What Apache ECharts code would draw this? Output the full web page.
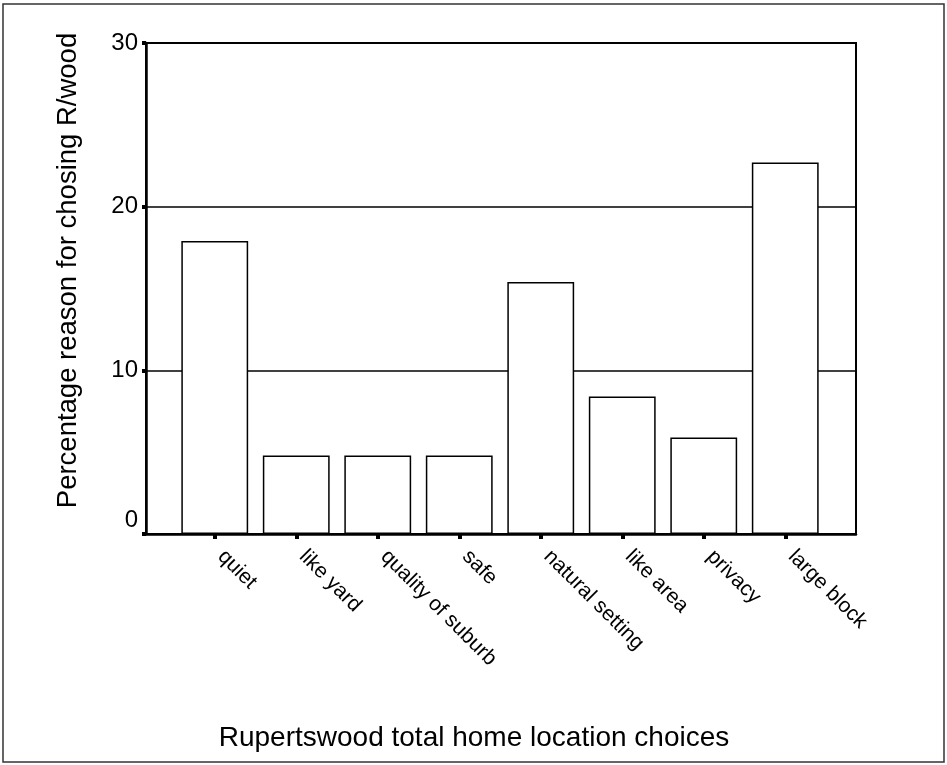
<!DOCTYPE html>
<html>
<head>
<meta charset="utf-8">
<title>Rupertswood total home location choices</title>
<script src="https://cdn.jsdelivr.net/npm/echarts@6/dist/echarts.min.js"></script>
<style>
  html, body { margin: 0; padding: 0; background: #fff; }
  #chart { width: 947px; height: 765px; }
</style>
</head>
<body>
<div id="chart"></div>
<script>
// Reasons given for choosing Rupertswood as a home location (percent of responses)
const categories = ['quiet', 'like yard', 'quality of suburb', 'safe', 'natural setting', 'like area', 'privacy', 'large block'];
const percentages = [17.9, 4.8, 4.8, 4.8, 15.4, 8.4, 5.9, 22.7];

const xTitle = 'Rupertswood total home location choices';
const yTitle = 'Percentage reason for chosing R/wood';

const FONT = '"Liberation Sans", Arial, sans-serif';

const chart = echarts.init(document.getElementById('chart'), null, { renderer: 'canvas' });

chart.setOption({
  backgroundColor: '#fff',
  animation: false,
  graphic: [{
    type: 'rect',
    shape: { x: 3, y: 4, width: 941, height: 758 },
    style: { fill: 'none', stroke: '#333', lineWidth: 1.5 },
    silent: true
  }],
  grid: [
    // frame, value axis and gridlines
    { left: 146, right: 91, top: 43, bottom: 231, show: true, borderColor: '#000', borderWidth: 2, backgroundColor: 'transparent' },
    // bars, inset from the frame
    { left: 174, right: 121, top: 43, bottom: 231 }
  ],
  xAxis: [
    {
      gridIndex: 0, type: 'value', min: 0, max: 1,
      axisLine: { show: true, lineStyle: { color: '#000', width: 2.5 } },
      axisTick: { show: false }, axisLabel: { show: false }, splitLine: { show: false },
      name: xTitle, nameLocation: 'middle', nameGap: 190,
      nameTextStyle: { fontFamily: FONT, fontSize: 28, color: '#000', padding: [0, 54, 0, 0] }
    },
    {
      gridIndex: 1, type: 'category', data: categories,
      axisLine: { show: false },
      axisTick: { show: true, alignWithLabel: true, length: 5, lineStyle: { color: '#000', width: 4 } },
      axisLabel: { rotate: -45, margin: 13, padding: [0, 0, 0, 9], fontFamily: FONT, fontSize: 21, color: '#000', interval: 0 }
    }
  ],
  yAxis: [
    {
      gridIndex: 0, type: 'value', min: 0, max: 30, interval: 10,
      axisLine: { show: true, lineStyle: { color: '#000', width: 2.5 } },
      axisTick: { show: true, length: 4, lineStyle: { color: '#000', width: 4 } },
      axisLabel: {
        margin: 8, fontFamily: FONT, fontSize: 24, color: '#000',
        formatter: function (v) { return v === 0 ? '{z|0}' : String(v); },
        rich: { z: { fontFamily: FONT, fontSize: 24, color: '#000', padding: [0, 0, 28, 0] } }
      },
      splitLine: { show: true, lineStyle: { color: '#000', width: 1.5 } },
      name: yTitle, nameLocation: 'middle', nameGap: 64, nameRotate: 90,
      nameTextStyle: { fontFamily: FONT, fontSize: 27.5, color: '#000', padding: [0, 0, 0, 36] }
    },
    {
      gridIndex: 1, type: 'value', min: 0, max: 30, show: false, splitLine: { show: false }
    }
  ],
  series: [{
    type: 'bar',
    xAxisIndex: 1, yAxisIndex: 1,
    data: percentages,
    barWidth: '82%',
    itemStyle: { color: '#fff', borderColor: '#000', borderWidth: 1.5 },
    z: 5
  }]
});
</script>
</body>
</html>
